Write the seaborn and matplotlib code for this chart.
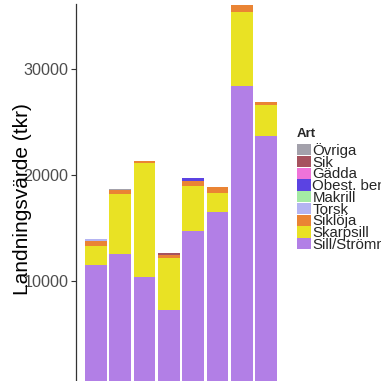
import pandas as pd
import matplotlib
matplotlib.use("Agg")
import matplotlib.pyplot as plt
from matplotlib.patches import Patch
import seaborn as sns

# years (x labels are cut off in the reference)
years = ["2011", "2012", "2013", "2014", "2015", "2016", "2017", "2018"]

# species, bottom of stack first
arter = ["Sill/Strömming", "Skarpsill", "Siklöja", "Torsk", "Makrill",
         "Obest. benfisk", "Gädda", "Sik", "Övriga"]
legend_labels = ["Övriga", "Sik", "Gädda", "Obest. benfisk", "Makrill",
                 "Torsk", "Siklöja", "Skarpsill", "Sill/Strömming"]

# landningsvärde (tkr) per species and year
sill      = [11550, 12580, 10350, 7250, 14750, 16510, 28400, 23680]
skarpsill = [1800, 5620, 10780, 4950, 4210, 1750, 6920, 2870]
sikloja   = [400, 380, 170, 260, 510, 640, 630, 260]
torsk     = [250, 0, 0, 0, 0, 0, 0, 0]
makrill   = [0, 0, 0, 0, 0, 0, 0, 0]
obest     = [0, 0, 0, 0, 190, 0, 0, 0]
gadda     = [0, 0, 0, 0, 0, 0, 0, 0]
sik       = [0, 0, 0, 200, 0, 0, 0, 0]
ovriga    = [0, 60, 0, 0, 0, 0, 0, 0]

colors = {
    "Övriga": "#a3a1ab",
    "Sik": "#a6525e",
    "Gädda": "#ef73d9",
    "Obest. benfisk": "#5b43e2",
    "Makrill": "#a4eaa4",
    "Torsk": "#b4b4f2",
    "Siklöja": "#ea8434",
    "Skarpsill": "#e9e224",
    "Sill/Strömming": "#b27fe6",
}

df = pd.DataFrame({
    "År": years,
    "Sill/Strömming": sill,
    "Skarpsill": skarpsill,
    "Siklöja": sikloja,
    "Torsk": torsk,
    "Makrill": makrill,
    "Obest. benfisk": obest,
    "Gädda": gadda,
    "Sik": sik,
    "Övriga": ovriga,
})
cum = df[arter].cumsum(axis=1)
cum["År"] = df["År"]

sns.set_style("white")
plt.rcParams["font.family"] = ["Liberation Sans", "DejaVu Sans"]

fig = plt.figure(figsize=(3.81, 3.81), dpi=100)
ax = fig.add_axes([75.5 / 381, -6.5 / 381, 211 / 381, 377.5 / 381 + 6.5 / 381])

# draw from the top of the stack downwards
for art in reversed(arter):
    sns.barplot(data=cum, x="År", y=art, color=colors[art], width=0.9,
                errorbar=None, saturation=1, linewidth=0, ax=ax)

ax.set_xlim(-0.844, 7.844)
ax.set_ylim(0, 36120)
ax.set_yticks([10000, 20000, 30000])
ax.tick_params(axis="y", length=3.5, width=0.8, color="#333333", pad=1.5,
               labelsize=11.6, labelcolor="#4d4d4d", left=True)
ax.tick_params(axis="x", bottom=False, labelbottom=False)
ax.set_xlabel("")
ax.set_ylabel("Landningsvärde (tkr)", fontsize=15, color="black")
ax.yaxis.set_label_coords(-0.205, 0.491)
for s in ["top", "right", "bottom"]:
    ax.spines[s].set_visible(False)
ax.spines["left"].set_color("#333333")
ax.spines["left"].set_linewidth(0.9)

fig.text(297 / 381, 1 - 134 / 381, "Art", fontsize=9.5, fontweight="bold",
         ha="left", va="center")
handles = [Patch(facecolor=colors[a], edgecolor="none") for a in legend_labels]
leg = fig.legend(handles, legend_labels, loc="upper left",
                 bbox_to_anchor=(297 / 381, 1 - 143 / 381), frameon=False,
                 fontsize=10.8, alignment="left",
                 handlelength=0.9, handleheight=0.78, handletextpad=0.13,
                 labelspacing=-0.15, borderpad=0, borderaxespad=0)

fig.savefig("out.png", dpi=100)
